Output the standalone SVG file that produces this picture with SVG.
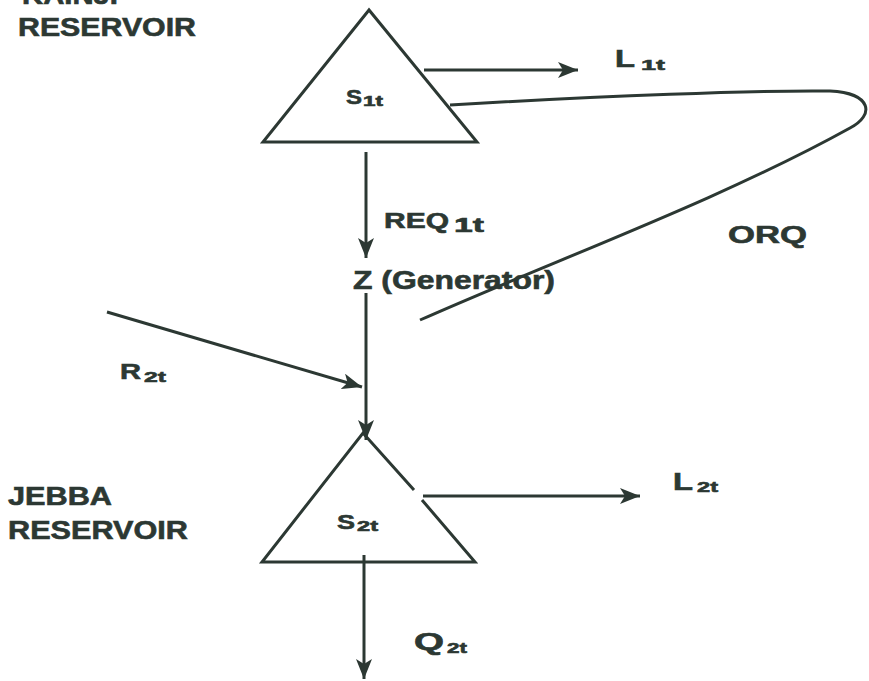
<svg xmlns="http://www.w3.org/2000/svg" width="869" height="681" viewBox="0 0 869 681">
<style>
.t{font-family:"Liberation Sans",Arial,sans-serif;font-weight:bold;fill:#2c3833;stroke:#2c3833;stroke-width:0.6}
.s{stroke:#2c3833;stroke-width:3;fill:none}
</style>
<defs>
<marker id="ah" markerUnits="userSpaceOnUse" markerWidth="22" markerHeight="16" refX="20" refY="8" orient="auto">
<path d="M0,0 L20,8 L0,16 L5,8 Z" fill="#2c3833"/>
</marker>
</defs>
<rect width="869" height="681" fill="#ffffff"/>
<g id="kainji-label">
<text class="t" x="22" y="4" font-size="25" textLength="96" lengthAdjust="spacingAndGlyphs">KAINJI</text>
<text class="t" x="18" y="36" font-size="25" textLength="178" lengthAdjust="spacingAndGlyphs">RESERVOIR</text>
</g>
<g id="jebba-label">
<text class="t" x="8" y="505" font-size="25" textLength="104" lengthAdjust="spacingAndGlyphs">JEBBA</text>
<text class="t" x="8" y="539" font-size="25" textLength="180" lengthAdjust="spacingAndGlyphs">RESERVOIR</text>
</g>
<g id="s1">
<polygon class="s" points="369,10 263,142 477,142"/>
<text class="t" x="346" y="104" font-size="21" textLength="16" lengthAdjust="spacingAndGlyphs">S</text>
<text class="t" x="363" y="106" font-size="14" textLength="20" lengthAdjust="spacingAndGlyphs">1t</text>
</g>
<g id="generator">
<text class="t" x="353" y="289" font-size="25" textLength="202" lengthAdjust="spacingAndGlyphs">Z (Generator)</text>
</g>
<g id="s2">
<path class="s" d="M414,490 L363,433 L262,562 L475,562 L422,500"/>
<text class="t" x="337" y="529" font-size="21" textLength="18" lengthAdjust="spacingAndGlyphs">S</text>
<text class="t" x="357" y="531" font-size="14" textLength="21" lengthAdjust="spacingAndGlyphs">2t</text>
</g>
<g id="connectors">
<line class="s" x1="424" y1="70" x2="578" y2="70" marker-end="url(#ah)"/>
<path class="s" stroke-width="2.5" d="M450,105 C600,96 760,90 830,91 C872,93 875,115 850,128 C720,200 560,258 420,320"/>
<line class="s" x1="366" y1="152" x2="366" y2="258" marker-end="url(#ah)"/>
<line class="s" x1="366" y1="293" x2="366" y2="440" marker-end="url(#ah)"/>
<line class="s" x1="107" y1="312" x2="362" y2="387" marker-end="url(#ah)"/>
<line class="s" x1="423" y1="496" x2="640" y2="496" marker-end="url(#ah)"/>
<line class="s" x1="364" y1="555" x2="364" y2="679" marker-end="url(#ah)"/>
</g>
<g id="labels">
<text class="t" x="615" y="67" font-size="23" textLength="20" lengthAdjust="spacingAndGlyphs">L</text>
<text class="t" x="641" y="70" font-size="15" textLength="24" lengthAdjust="spacingAndGlyphs">1t</text>
<text class="t" x="384" y="228" font-size="22" textLength="65" lengthAdjust="spacingAndGlyphs">REQ</text>
<text class="t" x="454" y="232" font-size="20" textLength="30" lengthAdjust="spacingAndGlyphs">1t</text>
<text class="t" x="728" y="243" font-size="24" textLength="79" lengthAdjust="spacingAndGlyphs">ORQ</text>
<text class="t" x="120" y="379" font-size="22" textLength="21" lengthAdjust="spacingAndGlyphs">R</text>
<text class="t" x="144" y="382" font-size="15" textLength="22" lengthAdjust="spacingAndGlyphs">2t</text>
<text class="t" x="673" y="490" font-size="23" textLength="20" lengthAdjust="spacingAndGlyphs">L</text>
<text class="t" x="697" y="492" font-size="15" textLength="21" lengthAdjust="spacingAndGlyphs">2t</text>
<text class="t" x="414" y="650" font-size="23" textLength="30" lengthAdjust="spacingAndGlyphs">Q</text>
<text class="t" x="447" y="653" font-size="15" textLength="20" lengthAdjust="spacingAndGlyphs">2t</text>
</g>
</svg>
